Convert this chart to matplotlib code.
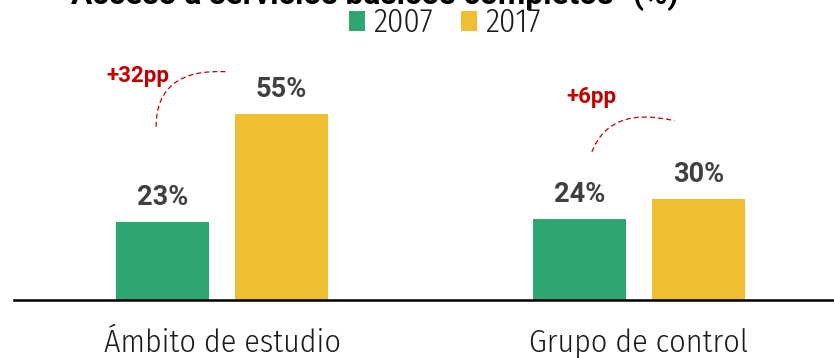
import matplotlib
matplotlib.use("Agg")
import matplotlib.pyplot as plt
from matplotlib.path import Path
from matplotlib.patches import PathPatch

# Data
categories = ["Ámbito de estudio", "Grupo de control"]
years = ["2007", "2017"]
values_2007 = [23, 24]
values_2017 = [55, 30]
changes = ["+32pp", "+6pp"]
title = "Acceso a servicios básicos completos¹ (%)"

GREEN = "#2EA66F"
YELLOW = "#EFBE33"
RED = "#C00000"
LABEL = "#404040"
COND = "Fira Sans Condensed"

W, H = 834, 358
fig = plt.figure(figsize=(W / 100, H / 100), dpi=100)
ax = fig.add_axes([14 / W, 58 / H, 820 / W, 300 / H])

x = [0, 1]
width = 0.223
off = 0.1427
ax.bar([xi - off for xi in x], values_2007, width, color=GREEN, label=years[0])
ax.bar([xi + off for xi in x], values_2017, width, color=YELLOW, label=years[1])

ax.set_xlim(-0.4988, 1.4676)
ax.set_ylim(0, 88.7)

# Value labels above bars
for xi, v in zip(x, values_2007):
    ax.text(xi - off, v + 5, f"{v}%", ha="center", va="baseline",
            fontsize=19.5, fontweight="bold", color=LABEL, family="Roboto")
for xi, v in zip(x, values_2017):
    ax.text(xi + off, v + 5, f"{v}%", ha="center", va="baseline",
            fontsize=19.5, fontweight="bold", color=LABEL, family="Roboto")

# Change annotations with dashed arcs
arc_start = [(-0.158, 51.2), (0.887, 43.8)]
arc_ctrl = [(-0.158, 68.5), (0.93, 57.5)]
arc_end = [0.0096, 1.085]
arc_end_y = [67.5, 53.0]
text_pos = [(-0.2014, 64.4), (0.885, 58.3)]
for (sx, sy), (cx, cy), ex, ey, (tx, ty), lab in zip(arc_start, arc_ctrl, arc_end,
                                                      arc_end_y, text_pos, changes):
    path = Path([(sx, sy), (cx, cy), (ex, ey)],
                [Path.MOVETO, Path.CURVE3, Path.CURVE3])
    ax.add_patch(PathPatch(path, fill=False, edgecolor=RED, lw=0.9,
                           linestyle=(0, (4, 2.5))))
    ax.text(tx, ty, lab, ha="center", va="baseline", fontsize=16,
            fontweight="bold", color=RED, family="Roboto")

# Axis styling
for s in ["top", "right", "left"]:
    ax.spines[s].set_visible(False)
ax.spines["bottom"].set_linewidth(1.8)
ax.spines["bottom"].set_color("black")
ax.set_yticks([])
ax.set_xticks(x)
ax.set_xticklabels(categories, fontsize=23, family=COND, fontweight=300,
                   color="#1a1a1a")
ax.tick_params(axis="x", length=0, pad=20)

leg = fig.legend(loc="center", bbox_to_anchor=(445 / W, 1 - 23 / H), ncol=2,
                 frameon=False, handlelength=0.5, handleheight=0.6,
                 handletextpad=0.25, columnspacing=0.85,
                 prop={"family": COND, "size": 23.5, "weight": 300})
for t in leg.get_texts():
    t.set_color("#1a1a1a")

fig.text(375 / W, 1 - 4 / H, title, ha="center", va="baseline", fontsize=22.8,
         fontweight="bold", family="Roboto", color="black")

fig.savefig("out.png", dpi=100)
